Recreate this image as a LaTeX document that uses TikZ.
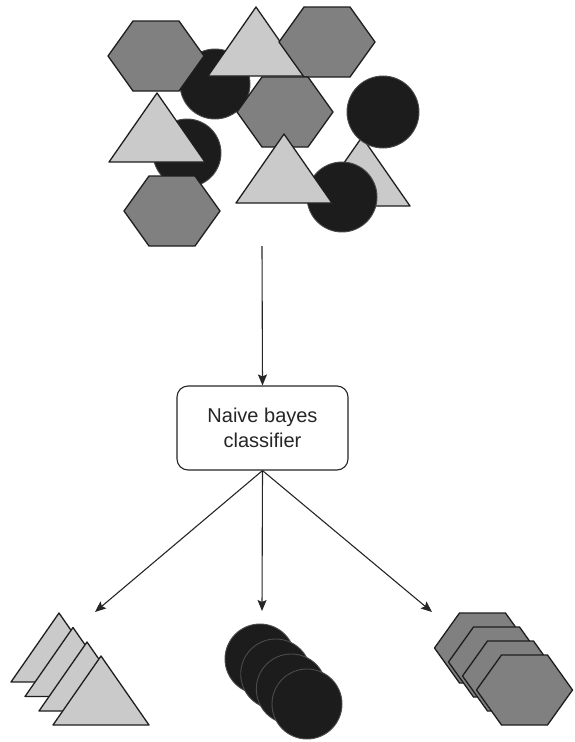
\documentclass[tikz,border=0pt]{standalone}
\usepackage{fontspec}
\setmainfont{Liberation Sans}
\usetikzlibrary{arrows.meta}
\definecolor{trifill}{RGB}{202,202,202}
\definecolor{hexfill}{RGB}{128,128,128}
\definecolor{circfill}{RGB}{28,28,28}
\definecolor{circedge}{RGB}{75,75,75}
\definecolor{edgecol}{RGB}{30,30,30}
\tikzset{
  shapeedge/.style={draw=edgecol,line width=1.3pt,line join=round},
  trishape/.style={shapeedge,fill=trifill},
  hexshape/.style={shapeedge,fill=hexfill},
  circshape/.style={draw=circedge,line width=0.9pt,fill=circfill},
  flowarrow/.style={draw=black!85,line width=1.1pt,-{Stealth[length=11pt,width=9pt,inset=2pt]}},
  classbox/.style={draw=black!85,line width=1.1pt,rounded corners=11pt,fill=white,
    minimum width=171pt,minimum height=84pt,align=center,text=black!85,
    font=\fontsize{20}{25}\selectfont}
}
\newcommand\drawhex[2]{\filldraw[hexshape,shift={(#1,#2)}] (-48,0) -- (-23,-35) -- (23,-35) -- (48,0) -- (23,35) -- (-23,35) -- cycle;}
\newcommand\drawtri[2]{\filldraw[trishape,shift={(#1,#2)}] (0,0) -- (48,69) -- (-48,69) -- cycle;}
\newcommand\drawcirc[3]{\filldraw[circshape] (#1,#2) circle[radius=#3];}
\begin{document}
\begin{tikzpicture}[x=1pt,y=-1pt]
\useasboundingbox (0,0) rectangle (575,742);
% top cluster
\drawcirc{215}{84}{35}
\drawcirc{187}{153}{34}
\drawtri{362}{137}
\drawcirc{383}{112}{36}
\drawcirc{342}{197}{35}
\drawhex{156}{56}
\drawtri{256}{7}
\drawhex{327}{42}
\drawhex{285}{112}
\drawtri{157}{93}
\drawhex{172}{211}
\drawtri{284}{134}
% classifier
\coordinate (src) at (262,246);
\node[classbox] (box) at (262.5,428) {Naive bayes\\classifier};
\coordinate (tl) at (95,612);
\coordinate (tc) at (262,611);
\coordinate (tr) at (432,612);
\draw[flowarrow] (src) -- (box.north);
\draw[flowarrow] (box.south) -- (tl);
\draw[flowarrow] (box.south) -- (tc);
\draw[flowarrow] (box.south) -- (tr);
% bottom groups
\drawtri{59}{613}
\drawtri{73}{627.5}
\drawtri{87}{642}
\drawtri{101}{656}
\drawcirc{260}{659}{35}
\drawcirc{275.7}{674}{35}
\drawcirc{291.3}{689}{35}
\drawcirc{307}{704}{35}
\drawhex{482.5}{648}
\drawhex{496.5}{662}
\drawhex{510.5}{676}
\drawhex{524.5}{690}
\end{tikzpicture}
\end{document}
